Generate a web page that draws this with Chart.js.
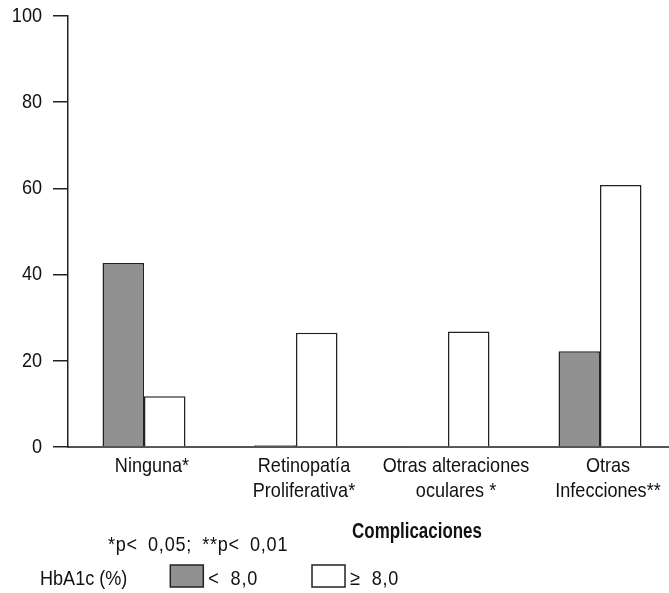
<!DOCTYPE html>
<html><head><meta charset="utf-8">
<style>
html,body{margin:0;padding:0;background:#fff;overflow:hidden;}
#wrap{position:relative;width:700px;height:593px;}
</style>
<script src="https://cdn.jsdelivr.net/npm/chart.js@4.4.1/dist/chart.umd.min.js"></script>
</head><body>
<div id="wrap"><canvas id="c" width="700" height="593"></canvas></div>
<script>
const categories = [['Ninguna*'], ['Retinopatía', 'Proliferativa*'], ['Otras alteraciones', 'oculares *'], ['Otras', 'Infecciones**']];
const seriesLow = [42.7, 0.4, 0.1, 22.2];
const seriesHigh = [11.8, 26.5, 26.8, 60.8];
const seriesNames = ['< 8,0', '≥ 8,0'];
const yTicks = [0, 20, 40, 60, 80, 100];
const axisTitle = 'Complicaciones';
const legendTitle = 'HbA1c (%)';
const footnote = '*p< 0,05; **p< 0,01';

const FONT = "'Liberation Sans', Arial, sans-serif";
Chart.defaults.font.family = FONT;
Chart.defaults.color = '#111';

// Narrow (condensed) rendering of text: horizontal squeeze around the anchor point.
let squeeze = 0.86;
const condensedText = {
  id: 'condensedText',
  beforeInit(chart) {
    const ctx = chart.ctx;
    const origFill = ctx.fillText.bind(ctx);
    const origMeasure = ctx.measureText.bind(ctx);
    ctx.fillText = function (text, x, y, maxWidth) {
      ctx.save();
      ctx.translate(x, y);
      ctx.scale(squeeze, 1);
      if (maxWidth !== undefined) origFill(text, 0, 0, maxWidth / squeeze);
      else origFill(text, 0, 0);
      ctx.restore();
    };
    ctx.measureText = function (text) {
      const m = origMeasure(text);
      return { width: m.width * squeeze, actualBoundingBoxAscent: m.actualBoundingBoxAscent, actualBoundingBoxDescent: m.actualBoundingBoxDescent };
    };
  }
};

const extras = {
  id: 'extras',
  afterDraw(chart) {
    const ctx = chart.ctx;
    ctx.save();
    ctx.fillStyle = '#111';
    ctx.textBaseline = 'alphabetic';
    squeeze = 0.77;
    ctx.font = 'bold 22px ' + FONT;
    ctx.textAlign = 'center';
    ctx.fillText(axisTitle, 417, 538);
    squeeze = 0.86;
    ctx.font = '21px ' + FONT;
    ctx.textAlign = 'left';
    ctx.letterSpacing = '0.9px';
    ctx.wordSpacing = '5px';
    ctx.fillText(footnote, 108, 551);
    ctx.letterSpacing = '0px';
    ctx.wordSpacing = '0px';
    let x = 40;
    ctx.fillText(legendTitle, x, 585);
    x += ctx.measureText(legendTitle).width + 43;
    chart.data.datasets.forEach(ds => {
      ctx.fillStyle = ds.backgroundColor;
      ctx.fillRect(x, 565, 33, 22);
      ctx.strokeStyle = ds.borderColor;
      ctx.lineWidth = 1.5;
      ctx.strokeRect(x, 565, 33, 22);
      ctx.fillStyle = '#111';
      const tx = x + 33 + 5;
      ctx.letterSpacing = '0.9px';
      ctx.wordSpacing = '6px';
      ctx.fillText(ds.label, tx, 585);
      x = tx + ctx.measureText(ds.label).width + 54;
      ctx.letterSpacing = '0px';
      ctx.wordSpacing = '0px';
    });
    ctx.restore();
  }
};

new Chart(document.getElementById('c'), {
  type: 'bar',
  data: {
    labels: categories,
    datasets: [
      { label: seriesNames[0], data: seriesLow, backgroundColor: '#919191', borderColor: '#222', borderWidth: 1.5 },
      { label: seriesNames[1], data: seriesHigh, backgroundColor: '#ffffff', borderColor: '#222', borderWidth: 1.5 }
    ]
  },
  options: {
    responsive: false,
    animation: false,
    devicePixelRatio: 1,
    layout: { padding: { top: 16, right: 24, left: 0, bottom: 0 } },
    plugins: { legend: { display: false }, tooltip: { enabled: false } },
    datasets: { bar: { categoryPercentage: 0.546, barPercentage: 1.0 } },
    scales: {
      x: {
        grid: { display: false, drawTicks: false },
        border: { display: true, color: '#555', width: 2 },
        ticks: { font: { size: 21, lineHeight: 1.19 }, color: '#111', padding: 7, labelOffset: 8, maxRotation: 0, autoSkip: false },
        afterFit(scale) { scale.height = 146; }
      },
      y: {
        min: 0, max: 100,
        afterBuildTicks(scale) { scale.ticks = yTicks.map(v => ({ value: v })); },
        grid: { display: true, drawOnChartArea: false, drawTicks: true, tickLength: 15, color: '#222', lineWidth: 1.5 },
        border: { display: true, color: '#222', width: 1.5 },
        ticks: { font: { size: 21 }, color: '#111', padding: 11 },
        afterFit(scale) { scale.width = 68; scale.paddingTop = 0; scale.paddingBottom = 0; }
      }
    }
  },
  plugins: [condensedText, extras]
});
</script>
</body></html>
